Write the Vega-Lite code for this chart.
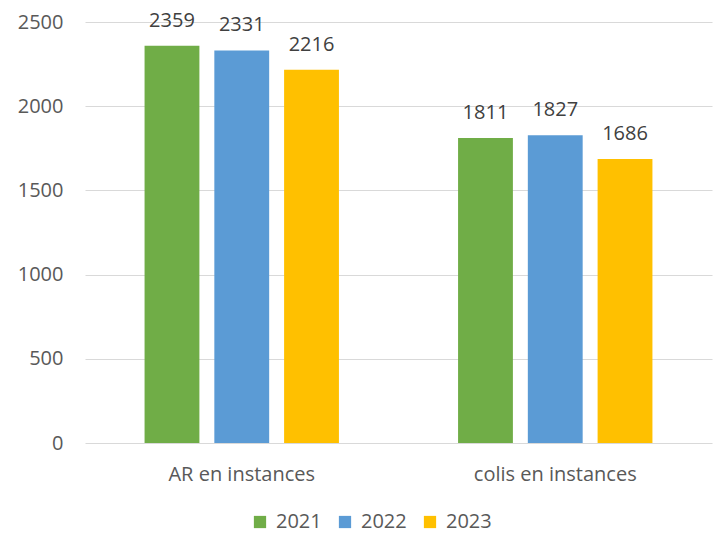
{
  "$schema": "https://vega.github.io/schema/vega-lite/v6.json",
  "width": 627,
  "height": 421,
  "autosize": {"type": "none"},
  "padding": {"left": 85, "top": 22, "right": 11, "bottom": 92},
  "background": "white",
  "config": {
    "font": "Open Sans",
    "view": {"stroke": null},
    "axis": {"labelFont": "Open Sans", "labelColor": "#595959", "labelFontSize": 20},
    "legend": {"labelFont": "Open Sans", "labelColor": "#595959", "labelFontSize": 20}
  },
  "data": {
    "values": [
      {"cat": "AR en instances", "year": "2021", "value": 2359},
      {"cat": "AR en instances", "year": "2022", "value": 2331},
      {"cat": "AR en instances", "year": "2023", "value": 2216},
      {"cat": "colis en instances", "year": "2021", "value": 1811},
      {"cat": "colis en instances", "year": "2022", "value": 1827},
      {"cat": "colis en instances", "year": "2023", "value": 1686}
    ]
  },
  "encoding": {
    "x": {
      "field": "cat", "type": "nominal", "sort": null,
      "scale": {"paddingInner": 0.38, "paddingOuter": 0.19},
      "axis": {"title": null, "labelAngle": 0, "ticks": false, "domain": false, "labelPadding": 21}
    },
    "xOffset": {
      "field": "year", "type": "nominal",
      "scale": {"paddingInner": 0.214, "paddingOuter": 0}
    },
    "y": {
      "field": "value", "type": "quantitative",
      "scale": {"domain": [0, 2500], "nice": false},
      "axis": {"title": null, "values": [0, 500, 1000, 1500, 2000, 2500], "format": "d", "ticks": false, "domain": false,
               "gridColor": "#D9D9D9", "gridWidth": 1, "labelPadding": 22}
    }
  },
  "layer": [
    {
      "mark": {"type": "bar"},
      "encoding": {
        "color": {
          "field": "year", "type": "nominal",
          "scale": {"domain": ["2021", "2022", "2023"], "range": ["#70AD47", "#5B9BD5", "#FFC000"]},
          "legend": {"title": null, "orient": "none", "direction": "horizontal", "legendX": 165, "legendY": 490,
                     "symbolType": "square", "symbolSize": 150, "symbolStrokeWidth": 0, "columnPadding": 13, "labelOffset": 6}
        }
      }
    },
    {
      "mark": {"type": "text", "dy": -25, "fontSize": 20, "color": "#404040", "font": "Open Sans"},
      "encoding": {"text": {"field": "value", "type": "quantitative", "format": "d"}}
    }
  ]
}
